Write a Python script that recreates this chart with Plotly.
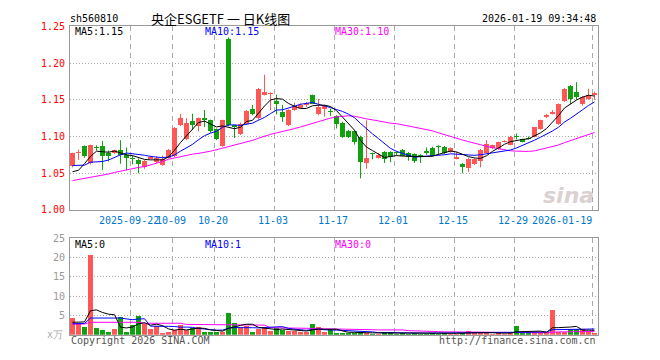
import plotly.graph_objects as go

# ---------------- data ----------------
trading_days = {
    "2025-09": [8, 9, 10, 11, 12, 15, 16, 17, 18, 19, 22, 23, 24, 25, 26, 29, 30],
    "2025-10": [9, 10, 13, 14, 15, 16, 17, 20, 21, 22, 23, 24, 27, 28, 29, 30, 31],
    "2025-11": [3, 4, 5, 6, 7, 10, 11, 12, 13, 14, 17, 18, 19, 20, 21, 24, 25, 26, 27, 28],
    "2025-12": [1, 2, 3, 4, 5, 8, 9, 10, 11, 12, 15, 16, 17, 18, 19, 22, 23, 24, 25, 26, 29, 30, 31],
    "2026-01": [5, 6, 7, 8, 9, 12, 13, 14, 15, 16, 19],
}
dates = [f"{m}-{d:02d}" for m, days in trading_days.items() for d in days]

opens = [1.060, 1.077, 1.087, 1.064, 1.085, 1.087, 1.078, 1.077, 1.082, 1.075,
         1.070, 1.068, 1.059, 1.070, 1.065, 1.061, 1.071, 1.073, 1.115, 1.096,
         1.121, 1.114, 1.125, 1.122, 1.110, 1.087, 1.233, 1.115, 1.103, 1.117,
         1.138, 1.125, 1.157, 1.158, 1.149, 1.134, 1.115, 1.136, 1.139, 1.143,
         1.156, 1.130, 1.138, 1.135, 1.128, 1.119, 1.108, 1.107, 1.100, 1.064,
         1.077, 1.071, 1.079, 1.079, 1.078, 1.082, 1.078, 1.076, 1.075, 1.080,
         1.085, 1.087, 1.086, 1.079, 1.070, 1.063, 1.057, 1.063, 1.066, 1.078,
         1.084, 1.083, 1.093, 1.089, 1.101, 1.096, 1.098, 1.100, 1.110, 1.126,
         1.131, 1.117, 1.148, 1.169, 1.161, 1.144, 1.151, 1.157]
highs = [1.078, 1.082, 1.088, 1.089, 1.088, 1.094, 1.081, 1.082, 1.095, 1.085,
         1.074, 1.070, 1.068, 1.074, 1.073, 1.074, 1.083, 1.113, 1.131, 1.125,
         1.131, 1.126, 1.136, 1.123, 1.111, 1.123, 1.235, 1.116, 1.119, 1.136,
         1.143, 1.166, 1.184, 1.160, 1.157, 1.143, 1.137, 1.146, 1.145, 1.147,
         1.157, 1.151, 1.143, 1.138, 1.129, 1.120, 1.109, 1.108, 1.101, 1.122,
         1.078, 1.077, 1.080, 1.080, 1.080, 1.083, 1.079, 1.077, 1.076, 1.085,
         1.086, 1.088, 1.087, 1.085, 1.079, 1.064, 1.071, 1.070, 1.083, 1.095,
         1.089, 1.093, 1.095, 1.101, 1.104, 1.097, 1.100, 1.113, 1.123, 1.131,
         1.136, 1.145, 1.166, 1.170, 1.174, 1.155, 1.165, 1.161]
lows = [1.058, 1.068, 1.071, 1.062, 1.081, 1.054, 1.066, 1.076, 1.063, 1.054,
        1.062, 1.050, 1.056, 1.069, 1.064, 1.060, 1.070, 1.072, 1.114, 1.095,
        1.109, 1.107, 1.113, 1.105, 1.095, 1.086, 1.114, 1.098, 1.102, 1.116,
        1.129, 1.123, 1.156, 1.136, 1.130, 1.120, 1.114, 1.135, 1.138, 1.140,
        1.144, 1.129, 1.127, 1.128, 1.111, 1.098, 1.098, 1.089, 1.043, 1.056,
        1.069, 1.070, 1.064, 1.065, 1.075, 1.073, 1.067, 1.064, 1.064, 1.075,
        1.074, 1.075, 1.076, 1.078, 1.069, 1.050, 1.052, 1.061, 1.058, 1.077,
        1.083, 1.082, 1.092, 1.088, 1.096, 1.092, 1.096, 1.099, 1.109, 1.125,
        1.130, 1.116, 1.147, 1.144, 1.150, 1.142, 1.150, 1.150]
closes = [1.077, 1.078, 1.073, 1.088, 1.084, 1.074, 1.074, 1.081, 1.075, 1.071,
          1.069, 1.062, 1.067, 1.072, 1.071, 1.069, 1.082, 1.112, 1.125, 1.118,
          1.115, 1.125, 1.122, 1.107, 1.096, 1.122, 1.115, 1.113, 1.117, 1.135,
          1.130, 1.165, 1.160, 1.159, 1.144, 1.126, 1.136, 1.141, 1.143, 1.145,
          1.144, 1.140, 1.141, 1.134, 1.117, 1.100, 1.099, 1.093, 1.065, 1.071,
          1.076, 1.075, 1.070, 1.072, 1.077, 1.073, 1.072, 1.067, 1.074, 1.078,
          1.074, 1.086, 1.078, 1.085, 1.072, 1.058, 1.070, 1.069, 1.082, 1.090,
          1.088, 1.093, 1.094, 1.100, 1.100, 1.093, 1.097, 1.113, 1.122, 1.129,
          1.134, 1.144, 1.165, 1.151, 1.154, 1.154, 1.157, 1.159]
volumes = [4.4, 3.0, 2.1, 20.7, 1.8, 1.1, 0.8, 1.4, 4.6, 0.8,
           2.4, 4.8, 2.8, 1.4, 2.2, 0.4, 0.7, 1.1, 2.6, 1.3,
           1.6, 2.0, 0.6, 0.6, 0.7, 0.6, 5.6, 3.0, 2.1, 2.2,
           0.6, 1.5, 2.0, 0.9, 1.6, 1.3, 1.0, 1.0, 0.7, 0.7,
           2.8, 2.1, 0.6, 1.2, 0.4, 0.5, 0.4, 0.5, 0.6, 0.5,
           0.3, 0.3, 0.7, 0.7, 0.3, 0.5, 0.3, 0.4, 0.3, 0.3,
           0.4, 0.3, 0.5, 0.3, 0.3, 0.5, 0.9, 0.4, 0.4, 0.5,
           0.3, 0.4, 0.3, 0.5, 2.2, 0.5, 0.6, 0.6, 0.7, 0.7,
           6.3, 0.8, 0.6, 1.5, 1.5, 1.5, 0.7, 0.4]

# moving-average values at the left edge (they depend on days before the chart)
ma5_head = [1.052, 1.054, 1.063, 1.073]
ma10_head = [1.0605, 1.0605, 1.061, 1.065, 1.065, 1.066, 1.068, 1.072, 1.075]
ma30_head = [1.040, 1.0415, 1.043, 1.044, 1.045, 1.047, 1.049, 1.051, 1.053, 1.054,
             1.056, 1.058, 1.059, 1.061, 1.064, 1.066, 1.069, 1.071, 1.073, 1.074,
             1.076, 1.077, 1.078, 1.080, 1.082, 1.084, 1.086, 1.088, 1.090]
vma5_head = [3.2, 3.2, 3.3, 6.2]
vma10_head = [2.8, 2.8, 2.9, 4.3, 4.3, 4.2, 4.2, 4.2, 4.3]
vma30_head = [2.75, 2.75, 2.75, 3.2, 3.2, 3.2, 3.2, 3.2, 3.2, 3.2,
              3.2, 3.2, 2.95, 2.95, 2.95, 2.95, 2.95, 2.95, 2.95, 2.65,
              2.65, 2.65, 2.65, 2.65, 2.65, 2.65, 2.6, 2.6, 2.6]

tick_dates = ["2025-09-22", "2025-10-09", "2025-10-20", "2025-11-03", "2025-11-17",
              "2025-12-01", "2025-12-15", "2025-12-29", "2026-01-19"]
tick_labels = ["2025-09-22", "10-09", "10-20", "11-03", "11-17", "12-01", "12-15", "12-29", "2026-01-19"]
price_ticks = [1.00, 1.05, 1.10, 1.15, 1.20, 1.25]
vol_ticks = [5, 10, 15, 20, 25]
vol_tick_labels = ["5", "10", "15", "20", "25"]
price_legend = ["MA5:1.15", "MA10:1.15", "MA30:1.10"]
vol_legend = ["MA5:0", "MA10:1", "MA30:0"]

# ---------------- helpers ----------------
def moving_avg(vals, n, head):
    out = list(head)
    for i in range(len(head), len(vals)):
        out.append(sum(vals[i - n + 1:i + 1]) / n)
    return out

ma5 = moving_avg(closes, 5, ma5_head)
ma10 = moving_avg(closes, 10, ma10_head)
ma30 = moving_avg(closes, 30, ma30_head)
vma5 = moving_avg(volumes, 5, vma5_head)
vma10 = moving_avg(volumes, 10, vma10_head)
vma30 = moving_avg(volumes, 30, vma30_head)

RED = "#ff5656"
GREEN = "#10a010"
W, H = 660, 360
n = len(dates)
xs = list(range(n))
up = [c >= o for o, c in zip(opens, closes)]
colors = [RED if u else GREEN for u in up]

# pixel layout
PL, PR = 70, 598
MAIN_T, MAIN_B = 21, 211
VOL_T, VOL_B = 240, 340
xr = [-0.4167, n - 0.4167]
tick_off = -0.38
tick_pos = [dates.index(d) + tick_off for d in tick_dates]

def px(x):
    return x / W

def py(y):
    return 1 - y / H

fig = go.Figure()

# wicks
for col, flag in ((RED, True), (GREEN, False)):
    wx, wy = [], []
    for i in xs:
        if up[i] == flag:
            wx += [i, i, None]
            wy += [lows[i], highs[i], None]
    fig.add_trace(go.Scatter(x=wx, y=wy, mode="lines", line=dict(color=col, width=1),
                             xaxis="x", yaxis="y", hoverinfo="skip"))

# bodies
body_base = [min(o, c) for o, c in zip(opens, closes)]
body_h = [max(abs(c - o), 0.0013) for o, c in zip(opens, closes)]
fig.add_trace(go.Bar(x=xs, y=body_h, base=body_base, width=0.78, marker=dict(color=colors, line=dict(width=0)),
                     xaxis="x", yaxis="y"))

# price MAs
for vals, col in ((ma30, "#ff00ff"), (ma10, "#0000ff"), (ma5, "#000000")):
    fig.add_trace(go.Scatter(x=xs, y=vals, mode="lines", line=dict(color=col, width=1),
                             xaxis="x", yaxis="y"))

# volume
fig.add_trace(go.Bar(x=xs, y=volumes, width=0.88, marker=dict(color=colors, line=dict(width=0)),
                     xaxis="x2", yaxis="y2"))
for vals, col in ((vma30, "#ff00ff"), (vma10, "#0000ff"), (vma5, "#000000")):
    fig.add_trace(go.Scatter(x=xs, y=vals, mode="lines", line=dict(color=col, width=1),
                             xaxis="x2", yaxis="y2"))

MONO = "DejaVu Sans Mono"
GRID_V = dict(showgrid=True, gridcolor="#aaaaaa", griddash="5px,4px", gridwidth=1)

fig.update_layout(
    width=W, height=H, margin=dict(l=0, r=0, t=0, b=0),
    paper_bgcolor="white", plot_bgcolor="white", showlegend=False, bargap=0, hovermode=False,
    xaxis=dict(domain=[px(PL), px(PR)], range=xr, anchor="y", tickvals=tick_pos, showticklabels=False,
               ticks="", showline=True, mirror=True, linecolor="#999999", linewidth=1, zeroline=False, **GRID_V),
    yaxis=dict(domain=[py(MAIN_B), py(MAIN_T)], range=[1.0, 1.25], anchor="x", tickvals=price_ticks,
               tickformat=".2f", ticks="", showline=True, mirror=True, linecolor="#999999", linewidth=1,
               tickfont=dict(family=MONO, size=10, color="#ff0000"), ticklabelstandoff=2,
               showgrid=True, gridcolor="#aaaaaa", griddash="1px,2px", zeroline=False),
    xaxis2=dict(domain=[px(PL), px(PR)], range=xr, anchor="y2", tickvals=tick_pos, showticklabels=False,
                ticks="", showline=True, mirror=True, linecolor="#999999", linewidth=1, zeroline=False, **GRID_V),
    yaxis2=dict(domain=[py(VOL_B), py(VOL_T)], range=[0, 25], anchor="x2", tickvals=vol_ticks,
                ticktext=vol_tick_labels, ticks="", showline=True, mirror=True, linecolor="#999999", linewidth=1,
                tickfont=dict(family=MONO, size=10, color="#999999"), ticklabelstandoff=2,
                showgrid=True, gridcolor="#aaaaaa", griddash="1px,2px", zeroline=False),
)

ann = []
def text(x, y, s, color="#000000", size=10, anchor="left", family=MONO, xref="paper", xshift=0):
    ann.append(dict(x=x, y=py(y), xref=xref, yref="paper", text=s, showarrow=False, xanchor=anchor,
                    yanchor="middle", font=dict(family=family, size=size, color=color), borderpad=0, xshift=xshift))

# x tick labels
for i, (p, lab) in enumerate(zip(tick_pos, tick_labels)):
    anchor = "right" if i == len(tick_labels) - 1 else "center"
    text(p, 222, lab, color="#0077cc", anchor=anchor, xref="x", xshift=(1 if anchor == "right" else -1))

# header
text(px(69), 13, "sh560810")
text(px(150), 13, "央企ESGETF 一 日K线图", size=13, family="Noto Sans CJK SC")
text(px(597), 13, "2026-01-19 09:34:48", anchor="right")
# MA legends
for xx, s, col in zip((74, 204, 334), price_legend, ("#000000", "#0000ff", "#ff00ff")):
    text(px(xx), 26, s, color=col)
for xx, s, col in zip((74, 204, 334), vol_legend, ("#000000", "#0000ff", "#ff00ff")):
    text(px(xx), 247, s, color=col)
# volume unit and footer
text(px(64), 340, "x万", color="#aaaaaa", anchor="right")
text(px(70), 346, "Copyright 2026 SINA.COM", color="#555555")
text(px(597), 346, "http://finance.sina.com.cn", color="#555555", anchor="right")
# watermark
ann.append(dict(x=px(596), y=py(196), xref="paper", yref="paper", text="<b><i>sina</i></b>", showarrow=False,
                xanchor="right", yanchor="middle", font=dict(family="DejaVu Sans", size=22, color="rgba(190,170,170,0.55)")))

fig.update_layout(annotations=ann)
fig.write_html("out.html", config={"displayModeBar": False, "staticPlot": True},
               post_script="document.body.style.margin='0';document.body.style.overflow='hidden';")
